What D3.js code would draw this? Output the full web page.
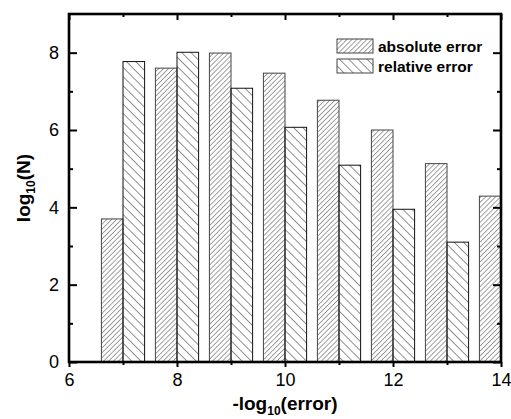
<!DOCTYPE html>
<html>
<head>
<meta charset="utf-8">
<script src="https://cdn.jsdelivr.net/npm/d3@7"></script>
<style>
  body { margin: 0; background: #fff; }
  text { font-family: "Liberation Sans", Arial, sans-serif; }
</style>
</head>
<body>
<div id="chart"></div>
<script>
// values
const groups = [7, 8, 9, 10, 11, 12, 13, 14];
const absoluteErr = [3.70, 7.60, 7.99, 7.47, 6.77, 6.00, 5.13, 4.29];
const relativeErr = [7.77, 8.01, 7.08, 6.07, 5.09, 3.95, 3.10, null];
const xTicks = [6, 8, 10, 12, 14];
const yTicks = [0, 2, 4, 6, 8];

const W = 511, H = 419;
const margin = { top: 14, right: 10, bottom: 57, left: 69 };
const width = W - margin.left - margin.right;
const height = H - margin.top - margin.bottom;

const svg = d3.select("#chart").append("svg")
  .attr("width", W).attr("height", H);

const defs = svg.append("defs");

// hatch patterns
defs.append("pattern")
  .attr("id", "hatchAbs")
  .attr("patternUnits", "userSpaceOnUse")
  .attr("width", 3.5).attr("height", 3.5)
  .attr("patternTransform", "rotate(45)")
  .append("line")
  .attr("x1", 0).attr("y1", 0).attr("x2", 0).attr("y2", 3.5)
  .attr("stroke", "#444").attr("stroke-width", 1);

defs.append("pattern")
  .attr("id", "hatchRel")
  .attr("patternUnits", "userSpaceOnUse")
  .attr("width", 6.5).attr("height", 6.5)
  .attr("patternTransform", "rotate(-45)")
  .append("line")
  .attr("x1", 0).attr("y1", 0).attr("x2", 0).attr("y2", 6.5)
  .attr("stroke", "#222").attr("stroke-width", 1);

defs.append("clipPath").attr("id", "plotClip")
  .append("rect").attr("width", width).attr("height", height);

const g = svg.append("g")
  .attr("transform", `translate(${margin.left},${margin.top})`);

const x = d3.scaleLinear().domain([6, 14]).range([0, width]);
const y = d3.scaleLinear().domain([0, 9]).range([height, 0]);

const barW = 0.4;

// bars
const bars = g.append("g").attr("clip-path", "url(#plotClip)");

bars.selectAll(".abs")
  .data(groups.map((d, i) => ({ x: d, v: absoluteErr[i] })))
  .enter().append("rect")
  .attr("class", "abs")
  .attr("x", d => x(d.x - barW))
  .attr("y", d => y(d.v))
  .attr("width", d => x(d.x) - x(d.x - barW))
  .attr("height", d => y(0) - y(d.v))
  .attr("fill", "url(#hatchAbs)")
  .attr("stroke", "#444")
  .attr("stroke-width", 1);

bars.selectAll(".rel")
  .data(groups.map((d, i) => ({ x: d, v: relativeErr[i] })).filter(d => d.v != null))
  .enter().append("rect")
  .attr("class", "rel")
  .attr("x", d => x(d.x))
  .attr("y", d => y(d.v))
  .attr("width", d => x(d.x + barW) - x(d.x))
  .attr("height", d => y(0) - y(d.v))
  .attr("fill", "url(#hatchRel)")
  .attr("stroke", "#111")
  .attr("stroke-width", 1);

// ticks
const xMinor = d3.range(7, 14, 2);
const yMinor = d3.range(1, 9, 2);

// bottom axis (ticks outward)
g.append("g")
  .attr("transform", `translate(0,${height})`)
  .call(d3.axisBottom(x).tickValues(xTicks).tickSize(5).tickPadding(6).tickFormat(d3.format("d")));
g.append("g")
  .attr("transform", `translate(0,${height})`)
  .call(d3.axisBottom(x).tickValues(xMinor).tickSize(3).tickFormat(""));

// left axis (ticks inward)
g.append("g")
  .call(d3.axisLeft(y).tickValues(yTicks).tickSize(-8).tickPadding(10).tickFormat(d3.format("d")));
g.append("g")
  .call(d3.axisLeft(y).tickValues(yMinor).tickSize(-4).tickFormat(""));

// top axis (ticks inward)
g.append("g")
  .call(d3.axisTop(x).tickValues(xTicks).tickSize(-6).tickFormat(""));
g.append("g")
  .call(d3.axisTop(x).tickValues(xMinor).tickSize(-3).tickFormat(""));

// right axis (ticks inward)
g.append("g")
  .attr("transform", `translate(${width},0)`)
  .call(d3.axisRight(y).tickValues(yTicks).tickSize(-8).tickFormat(""));
g.append("g")
  .attr("transform", `translate(${width},0)`)
  .call(d3.axisRight(y).tickValues(yMinor).tickSize(-4).tickFormat(""));

g.selectAll(".domain").remove();
g.selectAll(".tick line").attr("stroke", "#000").attr("stroke-width", 2);
g.selectAll(".tick text")
  .attr("fill", "#000")
  .style("font-size", "18px");

// frame
g.append("rect")
  .attr("width", width).attr("height", height)
  .attr("fill", "none")
  .attr("stroke", "#000")
  .attr("stroke-width", 2.6);

// axis titles
const xt = svg.append("text")
  .attr("x", margin.left + width / 2)
  .attr("y", 410)
  .attr("text-anchor", "middle")
  .style("font-size", "19px")
  .style("font-weight", "bold");
xt.append("tspan").text("-log");
xt.append("tspan").attr("dy", 5).style("font-size", "12px").text("10");
xt.append("tspan").attr("dy", -5).text("(error)");

const yt = svg.append("text")
  .attr("transform", `translate(30,${margin.top + height / 2}) rotate(-90)`)
  .attr("text-anchor", "middle")
  .style("font-size", "19px")
  .style("font-weight", "bold");
yt.append("tspan").text("log");
yt.append("tspan").attr("dy", 5).style("font-size", "12px").text("10");
yt.append("tspan").attr("dy", -5).text("(N)");

// legend
const legendItems = [
  { label: "absolute error", fill: "url(#hatchAbs)", stroke: "#444" },
  { label: "relative error", fill: "url(#hatchRel)", stroke: "#444" }
];
const legend = svg.append("g").attr("transform", "translate(337,39)");
legendItems.forEach((d, i) => {
  legend.append("rect")
    .attr("x", 0).attr("y", i * 20)
    .attr("width", 36).attr("height", 14)
    .attr("fill", d.fill)
    .attr("stroke", d.stroke).attr("stroke-width", 1);
  legend.append("text")
    .attr("x", 41).attr("y", i * 20 + 13)
    .style("font-size", "15.5px")
    .style("font-weight", "bold")
    .text(d.label);
});
</script>
</body>
</html>
